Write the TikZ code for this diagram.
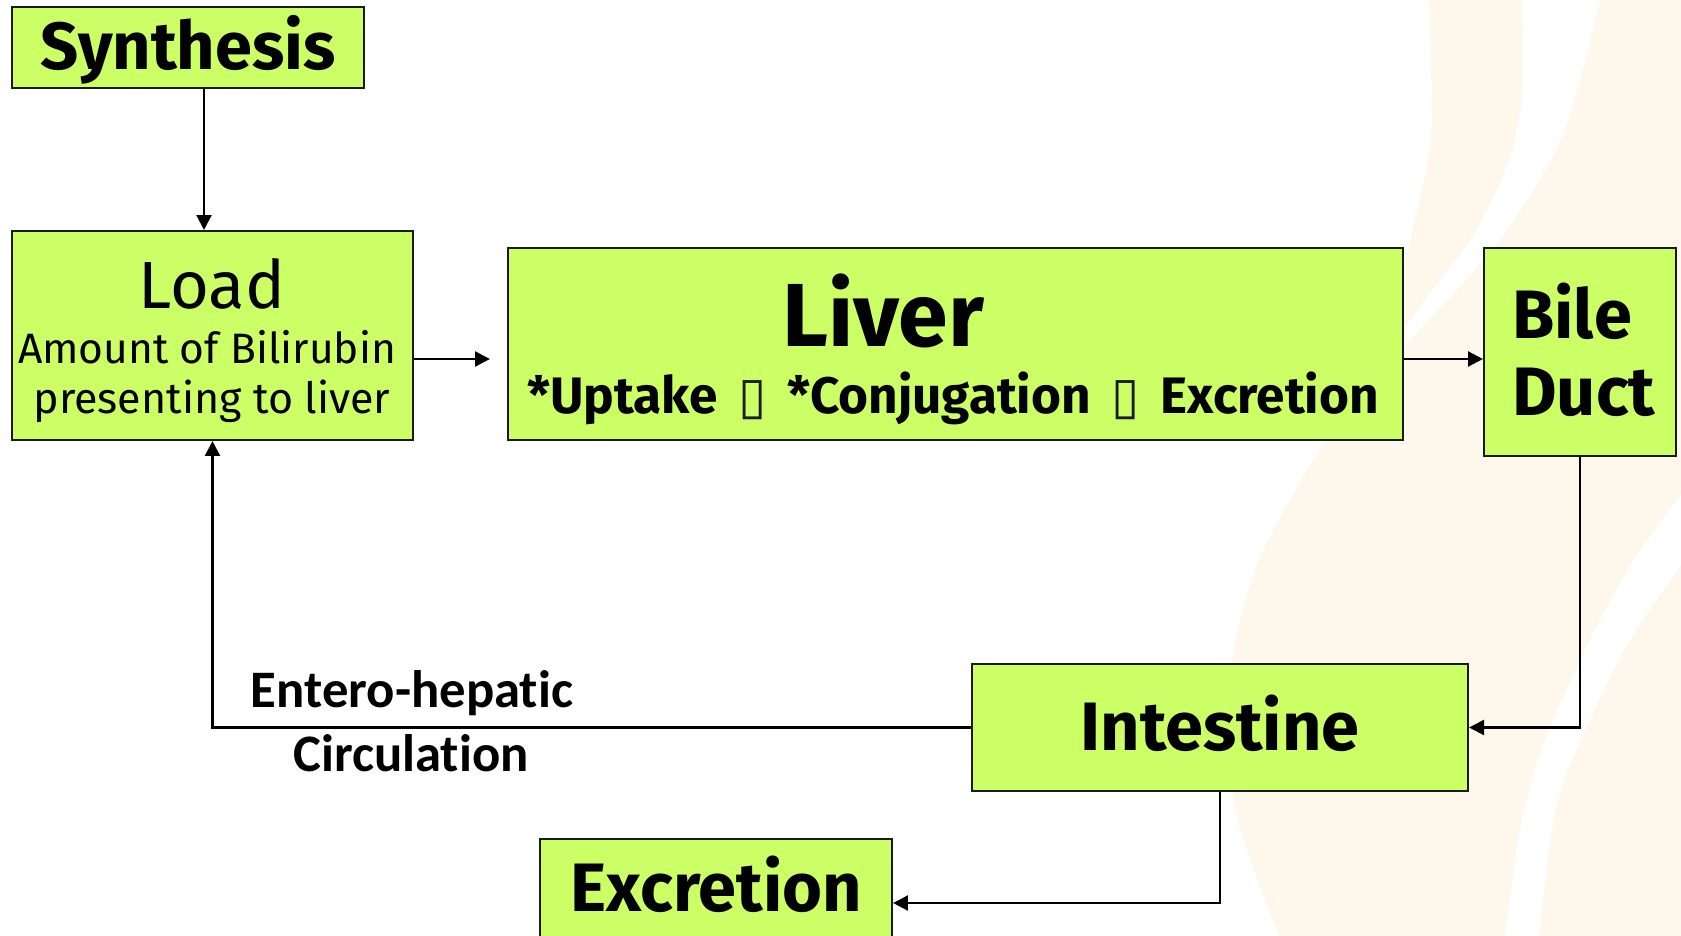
\documentclass[tikz,border=0pt]{standalone}
\usepackage{fontspec}
\setmainfont{Fira Sans}
\newfontfamily\calib[Ligatures=NoCommon]{Carlito}
\newfontfamily\dejav{DejaVu Sans}
\usetikzlibrary{arrows.meta}
\definecolor{boxgreen}{HTML}{CCFF66}
\definecolor{cream}{HTML}{FEF7EC}
\definecolor{edge}{HTML}{1A1A1A}
\tikzset{
  box/.style={draw=edge, line width=1.2pt, fill=boxgreen, inner sep=0pt},
  arr/.style={draw=black, line width=1.4pt, -{Triangle[length=8.5pt,width=8.5pt]}},
  lbl/.style={inner sep=0pt, anchor=base},
}
\begin{document}
\begin{tikzpicture}[x=0.02cm,y=-0.02cm]
\useasboundingbox (0,0) rectangle (1681,936);
\fill[white] (0,0) rectangle (1681,936);
% background waves
\fill[cream] plot[smooth] coordinates {(1600,0) (1563,135) (1502,237) (1420,330) (1340,420) (1290,500) (1255,570) (1231,671) (1235,807) (1279,936)} -- (1681,936) -- (1681,0) -- cycle;
\fill[cream] plot[smooth] coordinates {(1429,0) (1431,135) (1411,237) (1385,320) (1355,395)} -- plot[smooth] coordinates {(1355,395) (1421,305) (1472,237) (1505,170) (1522,100) (1522,0)} -- cycle;
\fill[white] plot[smooth] coordinates {(1681,495) (1634,560) (1590,640) (1545,740) (1522,820) (1505,936)} -- plot[smooth] coordinates {(1539,936) (1556,807) (1590,720) (1630,640) (1681,565)} -- cycle;

% boxes
\node[box, minimum width=352*0.02cm, minimum height=81*0.02cm] (syn) at (188,47.5) {};
\node[box, minimum width=401*0.02cm, minimum height=209*0.02cm] (load) at (212.5,335.5) {};
\node[box, minimum width=895*0.02cm, minimum height=192*0.02cm] (liver) at (955.5,344) {};
\node[box, minimum width=192*0.02cm, minimum height=208*0.02cm] (bile) at (1580,352) {};
\node[box, minimum width=496*0.02cm, minimum height=127*0.02cm] (intes) at (1220,727.5) {};
\node[box, minimum width=352*0.02cm, minimum height=128*0.02cm] (excr) at (716,903) {};

% texts
\node[lbl] (synT) at (188,70) {\fontsize{38}{40}\selectfont\bfseries Synthesis};
\node[lbl] (loadT) at (212,308) {\fontsize{38}{40}\selectfont Load};
\node[lbl] (loadT2) at (207,363) {\fontsize{24.2}{28}\selectfont Amount of Bilirubin};
\node[lbl] (loadT3) at (212,413) {\fontsize{24.5}{28}\selectfont presenting to liver};
\node[lbl] (liverT) at (883,346) {\fontsize{51}{54}\selectfont\bfseries Liver};
\node[lbl] (liverT2) at (953,413) {\fontsize{29.2}{32}\selectfont\bfseries *Uptake {\dejav\mdseries\color{edge}\,▯\,} *Conjugation {\dejav\mdseries\color{edge}\,▯\,} Excretion};
\node[lbl, anchor=base west] (bileT) at (1512,338) {\fontsize{39}{42}\selectfont\bfseries Bile};
\node[lbl, anchor=base west] (bileT2) at (1512,415) {\fontsize{39}{42}\selectfont\bfseries Duct};
\node[lbl] (intesT) at (1220,750) {\fontsize{39}{42}\selectfont\bfseries Intestine};
\node[lbl] (excrT) at (716,911) {\fontsize{39}{42}\selectfont\bfseries Excretion};
\node[lbl] (ent1) at (412,707) {\calib\bfseries\fontsize{30}{32}\selectfont Entero-hepatic};
\node[lbl] (ent2) at (411,771) {\calib\bfseries\fontsize{30}{32}\selectfont Circulation};

% connectors
\coordinate (cx) at (204,0);
\coordinate (ry) at (0,359);
\draw[arr] (cx |- syn.south) -- (cx |- load.north);
\draw[arr, shorten >=17*0.02cm] (load.east |- ry) -- (liver.west |- ry);
\draw[arr] (liver.east |- ry) -- (bile.west |- ry);
\draw[arr] (bile.south) |- (intes.east);
\draw[arr] (intes.west) -| (load.south);
\draw[arr] (intes.south) |- (excr.east);
\end{tikzpicture}
\end{document}
